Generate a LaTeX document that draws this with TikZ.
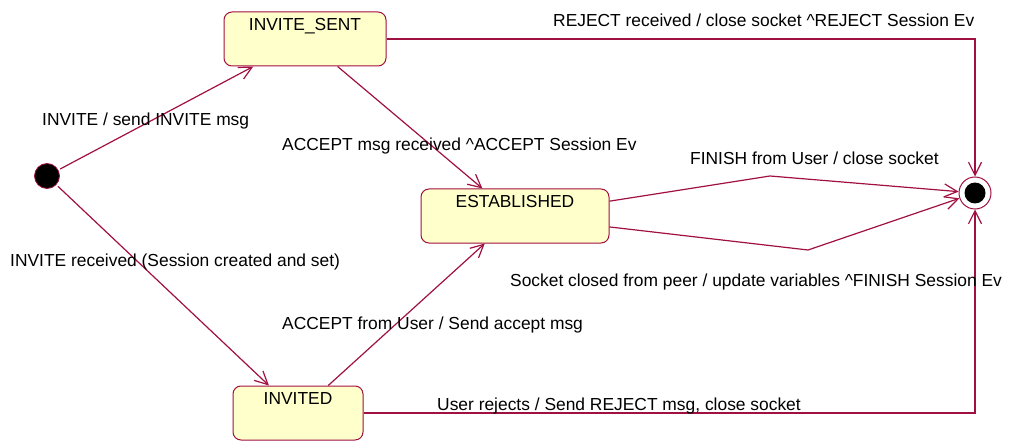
\documentclass[tikz,border=0pt]{standalone}
\usepackage{fontspec}
\setmainfont{Liberation Sans}
\usetikzlibrary{arrows.meta}
\definecolor{edgecol}{RGB}{160,16,64}
\definecolor{statefill}{RGB}{255,255,204}
\begin{document}
\begin{tikzpicture}[x=1pt,y=-1pt,
  every node/.style={font=\fontsize{17.4}{20}\selectfont},
  state/.style={draw=edgecol, fill=statefill, line width=1pt, rounded corners=8pt, inner sep=0pt, minimum height=54pt, text height=18.5pt, text depth=35.5pt, anchor=center},
  trans/.style={draw=edgecol, line width=1.2pt, -{Straight Barb[length=13pt,width=13pt]}},
  lbl/.style={anchor=base west, inner sep=0pt, text=black},
]
\clip (0,0) rectangle (1013,441);
\node[state, minimum width=162pt] (sent) at (305,39) {INVITE\_SENT};
\node[state, minimum width=188pt] (est) at (515,216) {ESTABLISHED};
\node[state, minimum width=130pt] (invited) at (298,413) {INVITED};
\node[circle, fill=black, draw=edgecol, line width=0.8pt, minimum size=25pt, inner sep=0pt] (init) at (47,176) {};
\node[circle, draw=edgecol, fill=white, line width=1pt, minimum size=32pt, inner sep=0pt] (final) at (975,193) {};
\fill[black] (final.center) circle (10.5pt);
\coordinate (f1) at (770,176);
\coordinate (s1) at (808,250);
\draw[trans, shorten <=2pt] (init) -- (sent);
\draw[trans, shorten <=2pt] (init) -- (invited);
\draw[trans] (sent) -- (est);
\draw[trans] (invited) -- (est);
\draw[trans] (sent.east) -| (final);
\draw[trans] (invited.east) -| (final);
\draw[trans] (est) -- (f1) -- (final);
\draw[trans] (est) -- (s1) -- (final);
\node[lbl] (l1) at (42,126) {INVITE / send INVITE msg};
\node[lbl] (l2) at (10,266) {INVITE received (Session created and set)};
\node[lbl] (l3) at (282,151) {ACCEPT msg received \^{}ACCEPT Session Ev};
\node[lbl] (l4) at (282,329) {ACCEPT from User / Send accept msg};
\node[lbl] (l5) at (553,27) {REJECT received / close socket \^{}REJECT Session Ev};
\node[lbl] (l6) at (690,165) {FINISH from User / close socket};
\node[lbl] (l7) at (510,286) {Socket closed from peer / update variables \^{}FINISH Session Ev};
\node[lbl] (l8) at (437,410) {User rejects / Send REJECT msg, close socket};
\end{tikzpicture}
\end{document}
